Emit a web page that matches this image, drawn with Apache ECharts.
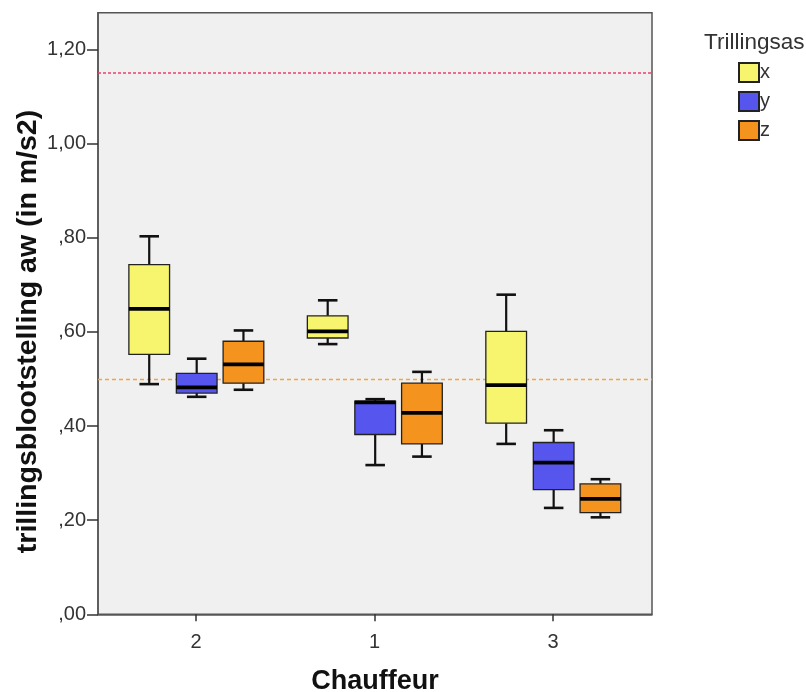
<!DOCTYPE html>
<html>
<head>
<meta charset="utf-8">
<script src="https://cdn.jsdelivr.net/npm/echarts@6/dist/echarts.min.js"></script>
<style>html,body{margin:0;padding:0;background:#fff}#c{width:806px;height:692px}</style>
</head>
<body>
<div id="c"></div>
<script>
// Categories (Chauffeur) in display order
const categories = ['2', '1', '3'];
// Box statistics per category: [whisker low, Q1, median, Q3, whisker high]
const statsX = [[0.489, 0.552, 0.649, 0.743, 0.803], [0.574, 0.587, 0.601, 0.634, 0.667], [0.362, 0.406, 0.487, 0.601, 0.679]];
const statsY = [[0.462, 0.470, 0.482, 0.512, 0.543], [0.317, 0.382, 0.450, 0.453, 0.457], [0.226, 0.265, 0.322, 0.365, 0.391]];
const statsZ = [[0.477, 0.491, 0.531, 0.580, 0.603], [0.335, 0.362, 0.428, 0.491, 0.515], [0.206, 0.216, 0.245, 0.277, 0.287]];
const seriesNames = ['x', 'y', 'z'];
const yTicks = [0, 0.2, 0.4, 0.6, 0.8, 1.0, 1.2];
const refLineRed = 1.15;
const refLineOrange = 0.5;

const colors = ['#F7F56E', '#5656EE', '#F5931F'];
const offsets = [-0.262, 0.004, 0.266];
const boxW = 0.228;
const font = '"Liberation Sans", Arial, sans-serif';

function renderItem(params, api) {
  const xi = api.value(0);
  const off = offsets[params.seriesIndex];
  const cx = api.coord([xi + off, 0])[0];
  const w = api.size([boxW, 0])[0];
  const capW = w * 0.48;
  const yLow = api.coord([0, api.value(1)])[1];
  const yQ1 = api.coord([0, api.value(2)])[1];
  const yMed = api.coord([0, api.value(3)])[1];
  const yQ3 = api.coord([0, api.value(4)])[1];
  const yHigh = api.coord([0, api.value(5)])[1];
  const lineStyle = {stroke: '#111', lineWidth: 2.2};
  return {
    type: 'group',
    children: [
      {type: 'line', shape: {x1: cx, y1: yHigh, x2: cx, y2: yQ3}, style: lineStyle},
      {type: 'line', shape: {x1: cx, y1: yQ1, x2: cx, y2: yLow}, style: lineStyle},
      {type: 'line', shape: {x1: cx - capW / 2, y1: yHigh, x2: cx + capW / 2, y2: yHigh}, style: {stroke: '#111', lineWidth: 2.6}},
      {type: 'line', shape: {x1: cx - capW / 2, y1: yLow, x2: cx + capW / 2, y2: yLow}, style: {stroke: '#111', lineWidth: 2.6}},
      {type: 'rect', shape: {x: cx - w / 2, y: yQ3, width: w, height: yQ1 - yQ3}, style: {fill: api.visual('color'), stroke: '#222', lineWidth: 1.3}},
      {type: 'line', shape: {x1: cx - w / 2, y1: yMed, x2: cx + w / 2, y2: yMed}, style: {stroke: '#000', lineWidth: 3.8}}
    ]
  };
}

function fmtY(v) {
  let s = v.toFixed(2).replace('.', ',');
  if (s.charAt(0) === '0') s = s.slice(1);
  return s;
}

const allStats = [statsX, statsY, statsZ];
const series = allStats.map((st, si) => ({
  name: seriesNames[si],
  type: 'custom',
  renderItem: renderItem,
  itemStyle: {color: colors[si], borderColor: '#222', borderWidth: 1},
  encode: {x: 0, y: [1, 2, 3, 4, 5]},
  data: st.map((s, i) => [i].concat(s)),
  z: 3
}));
series[0].markLine = {
  silent: true,
  symbol: 'none',
  label: {show: false},
  z: 2,
  data: [
    {yAxis: refLineRed, lineStyle: {color: '#EA4068', type: [3, 2], width: 1.5}},
    {yAxis: refLineOrange, lineStyle: {color: '#F4A43C', type: [4, 3], width: 1.4}}
  ]
};

const chart = echarts.init(document.getElementById('c'), null, {renderer: 'canvas'});
chart.setOption({
  animation: false,
  backgroundColor: '#fff',
  textStyle: {fontFamily: font},
  title: {
    text: 'Trillingsas', left: 699, top: 26,
    textStyle: {fontSize: 22.5, fontWeight: 'normal', color: '#333', fontFamily: font}
  },
  legend: {
    data: seriesNames, orient: 'vertical', left: 733, top: 57,
    itemWidth: 20, itemHeight: 19, itemGap: 8, icon: 'rect',
    textStyle: {fontSize: 20, color: '#333', fontFamily: font, padding: [0, 0, 0, -4]}
  },
  grid: {
    left: 98, right: 154, top: 12.7, bottom: 77.7,
    outerBoundsMode: 'none', containLabel: false,
    show: true, backgroundColor: '#F0F0F0', borderColor: '#555', borderWidth: 1.5
  },
  xAxis: {
    type: 'value', min: -0.549, max: 2.555,
    name: 'Chauffeur', nameLocation: 'middle', nameGap: 54, nameMoveOverlap: false,
    nameTextStyle: {fontSize: 27, fontWeight: 'bold', color: '#111', fontFamily: font},
    axisLine: {show: true, onZero: false, lineStyle: {color: '#555', width: 1.5}},
    axisTick: {show: true, length: 7, lineStyle: {color: '#333', width: 1.5}, customValues: [0, 1, 2]},
    axisLabel: {customValues: [0, 1, 2], formatter: v => categories[Math.round(v)], fontSize: 20, color: '#333', margin: 18},
    splitLine: {show: false}
  },
  yAxis: {
    type: 'value', min: 0, max: 1.278,
    name: 'trillingsblootstelling aw (in m/s2)', nameLocation: 'middle', nameRotate: 90, nameGap: 55, nameMoveOverlap: false,
    nameTextStyle: {fontSize: 28.5, fontWeight: 'bold', color: '#111', fontFamily: font, padding: [0, 36, 0, 0]},
    axisLine: {show: true, onZero: false, lineStyle: {color: '#555', width: 1.5}},
    axisTick: {show: true, length: 11, lineStyle: {color: '#333', width: 1.5}, customValues: yTicks},
    axisLabel: {customValues: yTicks, formatter: fmtY, fontSize: 20, color: '#333', margin: 12},
    splitLine: {show: false}
  },
  series: series
});
</script>
</body>
</html>
